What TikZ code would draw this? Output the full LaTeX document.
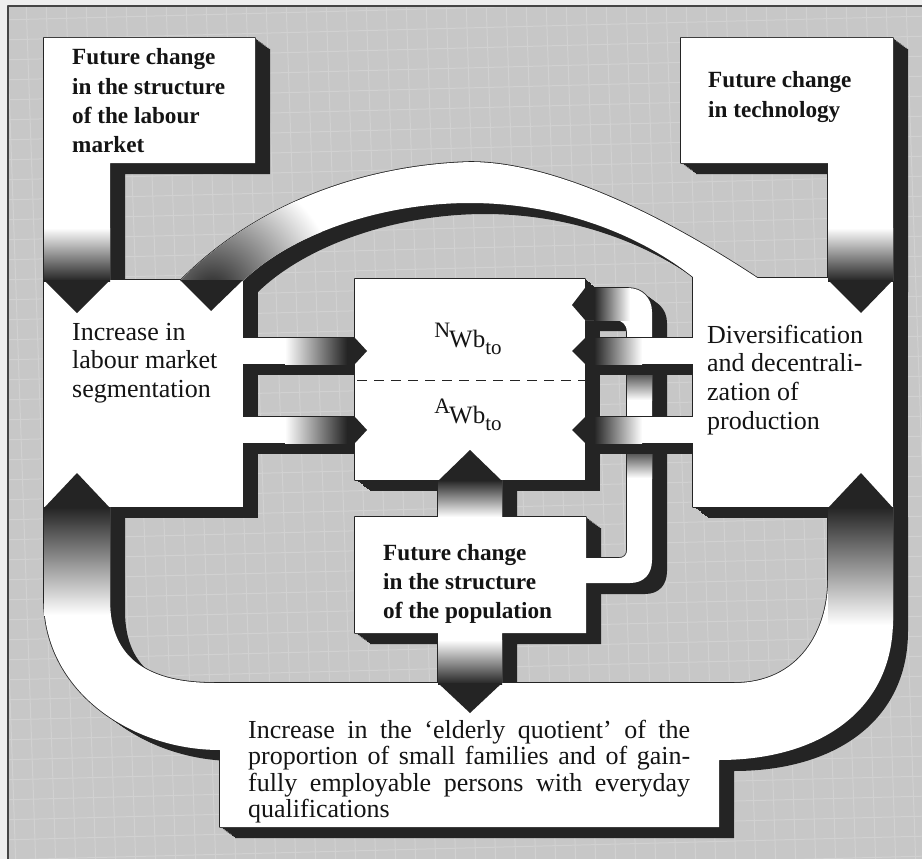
\documentclass[tikz,border=0pt]{standalone}
\usepackage{fontspec}
\setmainfont{Liberation Serif}
\definecolor{ink}{RGB}{36,36,36}
\definecolor{paper}{RGB}{199,199,199}
\definecolor{mesh}{RGB}{209,209,209}
\definecolor{margin}{RGB}{238,238,238}
\definecolor{txt}{RGB}{20,20,20}

% Outlines of the white pieces (x to the right, y downwards, 1 unit = 1pt)
\def\pLabour{(44,38) -- (255,38) -- (255,163) -- (110,163) -- (110,281) -- (44,281) -- cycle}
\def\pTech{(681,38) -- (893,38) -- (893,281) -- (828,281) -- (828,163) -- (681,163) -- cycle}
\def\pSeg{(44,280) -- (243,280) -- (243,507) -- (44,507) -- cycle}
\def\pDiv{(693,278) -- (893,278) -- (893,507) -- (693,507) -- cycle}
\def\pCore{(355,279) -- (585,279) -- (585,480) -- (355,480) -- cycle}
\def\pPop{(355,517) -- (438,517) -- (438,478) -- (502,478) -- (502,517) -- (586,517) -- (586,633) -- (502,633) -- (502,685) -- (438,685) -- (438,633) -- (355,633) -- cycle}
\def\pArc{(180,281) .. controls (260,200) and (370,165) .. (470,162) .. controls (540,162) and (640,200) .. (762,281) -- (693,281) -- (693,277) .. controls (640,235) and (560,203) .. (470,203) .. controls (380,203) and (290,235) .. (243,281) -- cycle}
\def\pLoop{(44,506) -- (44,600) .. controls (44,690) and (130,750) .. (220,750) -- (220,827) -- (719,827) -- (719,760) .. controls (820,760) and (893,710) .. (893,620) -- (893,506) -- (828,506) -- (828,580) .. controls (828,630) and (800,683) .. (734,683) -- (215,683) .. controls (150,683) and (110,660) .. (110,600) -- (110,506) -- cycle}
\def\pPipe{(575,288) -- (628,288) .. controls (642,288) and (652,298) .. (652,312) -- (652,560) .. controls (652,574) and (644,583) .. (630,583) -- (575,583) -- (575,558) -- (619,558) .. controls (624,558) and (627,555) .. (627,550) -- (627,332) .. controls (627,325) and (622,320) .. (615,320) -- (575,320) -- cycle}
\def\pArmLa{(235,338) -- (357,338) -- (357,364) -- (235,364) -- cycle}
\def\pArmLb{(235,417) -- (357,417) -- (357,443) -- (235,443) -- cycle}
\def\pArmRa{(583,338) -- (700,338) -- (700,364) -- (583,364) -- cycle}
\def\pArmRb{(583,417) -- (700,417) -- (700,443) -- (583,443) -- cycle}

% extruded black shadow plus a thin rim round a piece
\newcommand\shadowof[1]{%
  \foreach \s in {0,...,10}{\fill[ink, shift={(1.5*\s,1.1*\s)}] #1;}%
  \draw[ink, line width=1.6pt] #1;}
\newcommand\whiteof[1]{\fill[white] #1;}

\tikzset{
  tip/.style={fill=ink},
  boldlabel/.style={anchor=base west, inner sep=0pt, text=txt,
    font=\bfseries\fontsize{23.2}{29.2}\selectfont},
  plainlabel/.style={anchor=base west, inner sep=0pt, text=txt,
    font=\fontsize{26}{28.7}\selectfont},
  symlabel/.style={anchor=base, inner sep=0pt, text=txt,
    font=\fontsize{25}{25}\selectfont},
}

\begin{document}
\begin{tikzpicture}[x=1pt, y=-1pt, line join=round]
\useasboundingbox (0,0) rectangle (922,859);

% paper with its screen texture and frame
\fill[margin] (0,0) rectangle (922,859);
\fill[paper] (8,6) rectangle (922,859);
\begin{scope}
  \clip (8,6) rectangle (922,859);
  \foreach \i in {0,...,49}{\draw[mesh, line width=1pt] (\i*20-14,0) -- (\i*20+16,870);}
  \foreach \j in {0,...,45}{\draw[mesh, line width=1pt] (0,\j*20) -- (930,\j*20-24);}
\end{scope}
\draw[ink!85, line width=1.4pt] (8,859) -- (8,6) -- (922,6);

% shadows of the boxes and bands
\shadowof{\pLabour}
\shadowof{\pTech}
\shadowof{\pArc}
\shadowof{\pSeg}
\shadowof{\pDiv}
\shadowof{\pCore}
\shadowof{\pPop}
\shadowof{\pLoop}

% the bent pipe from the population box, lying under the right arms
\shadowof{\pPipe}
\whiteof{\pPipe}

% arms between the side boxes and the central box
\shadowof{\pArmLa}
\shadowof{\pArmLb}
\shadowof{\pArmRa}
\shadowof{\pArmRb}

% white faces
\whiteof{\pArmLa}
\whiteof{\pArmLb}
\whiteof{\pArmRa}
\whiteof{\pArmRb}
\whiteof{\pLabour}
\whiteof{\pTech}
\whiteof{\pArc}
\whiteof{\pSeg}
\whiteof{\pDiv}
\whiteof{\pCore}
\whiteof{\pPop}
\whiteof{\pLoop}

% darkening towards the arrow tips
\shade[top color=white, bottom color=ink] (44,228) rectangle (110,281);
\shade[top color=white, bottom color=ink] (828,228) rectangle (893,281);
\begin{scope}
  \clip \pArc;
  \shade[inner color=ink, outer color=white] (212,292) circle (125);
\end{scope}
\shade[left color=white, right color=ink] (285,338) rectangle (347,364);
\shade[left color=white, right color=ink] (285,417) rectangle (347,443);
\shade[left color=ink, right color=white] (594,338) rectangle (642,364);
\shade[left color=ink, right color=white] (594,417) rectangle (642,443);
\shade[left color=ink, right color=white] (594,288) rectangle (630,320);
\shade[top color=ink!75, bottom color=white] (627,375) rectangle (652,400);
\shade[top color=ink!75, bottom color=white] (627,454) rectangle (652,478);
\shade[top color=ink, bottom color=white] (438,480) rectangle (502,517);
\shade[top color=white, bottom color=ink] (438,640) rectangle (502,684);
\shade[top color=ink, bottom color=white] (44,507) rectangle (110,615);
\shade[top color=ink, bottom color=white] (828,507) rectangle (893,625);

% arrow tips
\fill[tip] (44,280) -- (110,280) -- (77,313) -- cycle;
\fill[tip] (828,280) -- (893,280) -- (861,313) -- cycle;
\fill[tip] (180,280) -- (243,280) -- (211,311) -- cycle;
\fill[tip] (347,338) -- (355,338) -- (367,351) -- (355,364) -- (347,364) -- cycle;
\fill[tip] (347,417) -- (355,417) -- (367,430) -- (355,443) -- (347,443) -- cycle;
\fill[tip] (595,338) -- (585,338) -- (572,351) -- (585,364) -- (595,364) -- cycle;
\fill[tip] (595,417) -- (585,417) -- (572,430) -- (585,443) -- (595,443) -- cycle;
\fill[tip] (595,288) -- (585,288) -- (572,305) -- (585,320) -- (595,320) -- cycle;
\fill[tip] (438,481) -- (502,481) -- (470,450) -- cycle;
\fill[tip] (438,683) -- (502,683) -- (470,713) -- cycle;
\fill[tip] (44,508) -- (110,508) -- (77,473) -- cycle;
\fill[tip] (828,508) -- (893,508) -- (861,473) -- cycle;

% division of the central box
\draw[ink, line width=1pt, dash pattern=on 10pt off 7pt] (357,380) -- (585,380);

% labels
\node[boldlabel] (labour) at (72,65)
  {\parbox[t]{180pt}{\raggedright Future change\\in the structure\\of the labour\\market}};
\node[boldlabel] (tech) at (708,88)
  {\parbox[t]{180pt}{\raggedright Future change\\in technology}};
\node[plainlabel] (seg) at (72,340)
  {\parbox[t]{170pt}{\raggedright Increase in\\labour market\\segmentation}};
\node[plainlabel] (div) at (707,343)
  {\parbox[t]{180pt}{\raggedright Diversification\\and decentrali-\\zation of\\production}};
\node[boldlabel] (pop) at (383,560)
  {\parbox[t]{200pt}{\raggedright Future change\\in the structure\\of the population}};
\node[symlabel] (nwb) at (468,347)
  {\raisebox{10pt}{\fontsize{22}{22}\selectfont N}\kern-1pt Wb\raisebox{-7pt}{\fontsize{21}{21}\selectfont to}};
\node[symlabel] (awb) at (468,423)
  {\raisebox{10pt}{\fontsize{22}{22}\selectfont A}\kern-1pt Wb\raisebox{-7pt}{\fontsize{21}{21}\selectfont to}};
\node[anchor=base west, inner sep=0pt, text=txt, font=\fontsize{26}{26.6}\selectfont] (elderly) at (248,738)
  {\parbox[t]{442pt}{\tolerance=9999\hbadness=10000 Increase in the `elderly quotient' of the\linebreak proportion of small families and of gain-\linebreak fully employable persons with everyday\linebreak qualifications}};
\end{tikzpicture}
\end{document}
